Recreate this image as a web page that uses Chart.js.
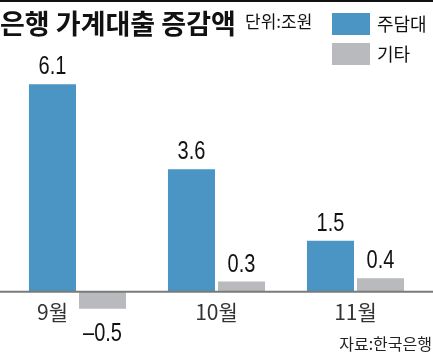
<!DOCTYPE html>
<html><head><meta charset="utf-8">
<script src="https://cdn.jsdelivr.net/npm/chart.js@4"></script>
<style>html,body{margin:0;padding:0;background:#fff;}#wrap{width:433px;height:355px;position:relative;}</style>
</head><body><div id="wrap"><canvas id="c" width="433" height="355"></canvas></div>
<script>
const categories = ['9월', '10월', '11월'];
const mortgage = [6.1, 3.6, 1.5];
const other = [-0.5, 0.3, 0.4];
const seriesNames = ['주담대', '기타'];
const title = '은행 가계대출 증감액';
const unitText = '단위:조원';
const sourceText = '자료:한국은행';

const BLUE = '#4a95c4', GRAY = '#b9babd';
const KR = '"Noto Sans CJK KR", sans-serif';
const NUM = '"Liberation Sans", Arial, sans-serif';

function condensedText(ctx, text, x, y, font, sx, align) {
  ctx.save();
  ctx.font = font;
  const w = ctx.measureText(text).width * sx;
  let left = x;
  if (align === 'center') left = x - w / 2;
  else if (align === 'right') left = x - w;
  ctx.translate(left, y);
  ctx.scale(sx, 1);
  ctx.textAlign = 'left';
  ctx.fillText(text, 0, 0);
  ctx.restore();
}

const decor = {
  id: 'decor',
  afterDatasetsDraw(chart) {
    const ctx = chart.ctx;
    const ys = chart.scales.y, xs = chart.scales.x;
    const y0 = ys.getPixelForValue(0);
    ctx.save();
    ctx.strokeStyle = '#7a7a7a'; ctx.lineWidth = 2;
    ctx.beginPath(); ctx.moveTo(0, y0); ctx.lineTo(chart.width, y0); ctx.stroke();
    ctx.fillStyle = '#111'; ctx.fillRect(0, 0, chart.width, 2);
    ctx.fillStyle = '#111';
    ctx.textBaseline = 'alphabetic';
    chart.data.datasets.forEach((ds, di) => {
      const meta = chart.getDatasetMeta(di);
      meta.data.forEach((el, i) => {
        const v = ds.data[i];
        const txt = v < 0 ? '\u2013' + Math.abs(v).toFixed(1) : v.toFixed(1);
        if (v >= 0) {
          condensedText(ctx, txt, el.x, el.y - 10, '25px ' + NUM, 0.8, 'center');
        } else {
          condensedText(ctx, txt, el.x, el.y + 32, '25px ' + NUM, 0.8, 'center');
        }
      });
    });
    ctx.fillStyle = '#333';
    categories.forEach((c, i) => {
      let x = xs.getPixelForValue(i);
      const negative = chart.data.datasets.some(d => d.data[i] < 0);
      if (negative) x = chart.getDatasetMeta(0).data[i].x;
      ctx.font = '21px ' + KR;
      ctx.textAlign = 'center';
      ctx.textBaseline = 'middle';
      ctx.fillText(c, x, 312);
    });
    ctx.fillStyle = '#111';
    ctx.textAlign = 'left'; ctx.textBaseline = 'middle';
    ctx.font = 'bold 27px ' + KR;
    ctx.fillText(title, 0, 24);
    ctx.font = '17px ' + KR;
    ctx.fillText(unitText, 245, 22);
    chart.data.datasets.forEach((ds, di) => {
      const top = 13 + di * 30;
      ctx.fillStyle = ds.backgroundColor;
      ctx.fillRect(332, top, 38, 22);
      ctx.fillStyle = '#111';
      ctx.font = '18px ' + KR;
      ctx.fillText(ds.label, 377, top + 11);
    });
    ctx.fillStyle = '#222';
    ctx.textAlign = 'right';
    ctx.font = '16px ' + KR;
    ctx.fillText(sourceText, 432, 344);
    ctx.restore();
  }
};

new Chart(document.getElementById('c'), {
  type: 'bar',
  data: {
    labels: categories,
    datasets: [
      { label: seriesNames[0], data: mortgage, backgroundColor: BLUE },
      { label: seriesNames[1], data: other, backgroundColor: GRAY }
    ]
  },
  options: {
    responsive: false,
    animation: false,
    devicePixelRatio: 1,
    layout: { padding: { left: 8, right: 8, top: 40, bottom: 2 } },
    datasets: { bar: { categoryPercentage: 0.72, barPercentage: 0.94 } },
    scales: {
      x: { display: false },
      y: { display: false, min: -1.8, max: 7.4 }
    },
    plugins: { legend: { display: false }, tooltip: { enabled: false } }
  },
  plugins: [decor]
});
</script>
</body></html>
